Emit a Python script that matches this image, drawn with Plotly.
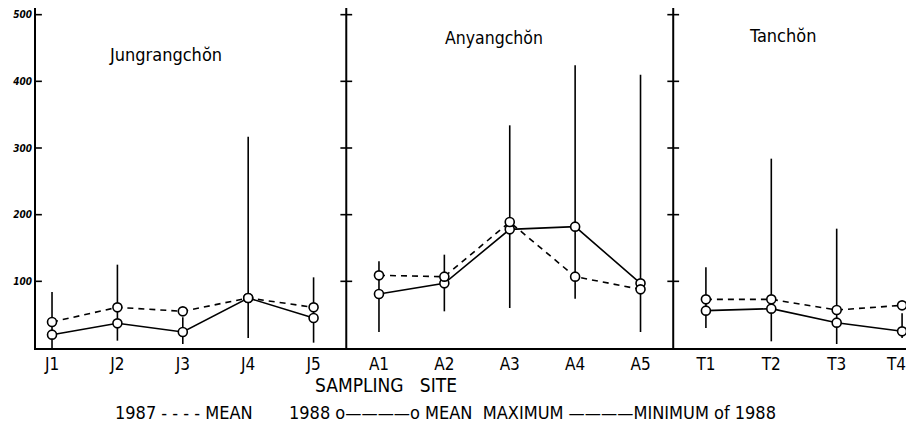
import plotly.graph_objects as go

# ---------------- data ----------------
groups = ["Jungrangchŏn", "Anyangchŏn", "Tanchŏn"]
sites_j = ["J1", "J2", "J3", "J4", "J5"]
sites_a = ["A1", "A2", "A3", "A4", "A5"]
sites_t = ["T1", "T2", "T3", "T4"]

mean87_j = [39, 61, 55, 75, 61]
mean87_a = [109, 107, 189, 107, 88]
mean87_t = [73, 73, 57, 64]

mean88_j = [20, 37, 24, 75, 45]
mean88_a = [81, 97, 178, 182, 97]
mean88_t = [56, 59, 38, 25]

max88_j = [84, 125, 46, 317, 106]
max88_a = [130, 140, 334, 424, 410]
max88_t = [121, 284, 179, 52]

min88_j = [0, 11, 6, 15, 8]
min88_a = [24, 55, 60, 74, 24]
min88_t = [30, 10, 6, 15]

y_ticks = [100, 200, 300, 400, 500]

# ---------------- figure ----------------
panels = [
    (sites_j, mean87_j, mean88_j, max88_j, min88_j),
    (sites_a, mean87_a, mean88_a, max88_a, min88_a),
    (sites_t, mean87_t, mean88_t, max88_t, min88_t),
]

YMAX = 510
FONT = "DejaVu Sans Condensed, Liberation Sans Narrow, sans-serif"

fig = go.Figure()
all_vals, all_text = [], []
dividers = []
start = 0
for sites, m87, m88, mx, mn in panels:
    xs = list(range(start, start + len(sites)))
    all_vals += xs
    all_text += sites
    # 1988 range bars (min to max) drawn as asymmetric error bars
    fig.add_trace(go.Scatter(
        x=xs, y=m88, mode="lines+markers",
        line=dict(color="black", width=1.6),
        marker=dict(symbol="circle", size=9, color="white", line=dict(width=1.6, color="black")),
        error_y=dict(type="data", symmetric=False,
                     array=[a - b for a, b in zip(mx, m88)],
                     arrayminus=[b - c for b, c in zip(m88, mn)],
                     width=0, thickness=1.6, color="black"),
        showlegend=False, hoverinfo="skip"))
    fig.add_trace(go.Scatter(
        x=xs, y=m87, mode="lines+markers",
        line=dict(color="black", width=1.6, dash="6px,5px"),
        marker=dict(symbol="circle", size=9, color="white", line=dict(width=1.6, color="black")),
        showlegend=False, hoverinfo="skip"))
    start += len(sites)
    dividers.append(start - 0.5)
dividers = dividers[:-1]

shapes = []
axis_positions = [-0.245] + dividers
for i, xp in enumerate(axis_positions):
    if i > 0:
        shapes.append(dict(type="line", xref="x", yref="y", x0=xp, x1=xp, y0=0, y1=YMAX,
                           line=dict(color="black", width=2)))
    for t in y_ticks:
        shapes.append(dict(type="line", xref="x", yref="y", x0=xp - 0.09, x1=xp + 0.09,
                           y0=t, y1=t, line=dict(color="black", width=1.6)))

def px_x(p):
    return (p - 36) / 870

def px_y(p):
    return (348 - p) / 340

annotations = []
title_pos = [(107, 55, 18), (443, 38, 17.5), (747, 35, 18)]
for name, (px, py, fs) in zip(groups, title_pos):
    annotations.append(dict(text=name, xref="paper", yref="paper", x=px_x(px), y=px_y(py),
                            xanchor="left", yanchor="middle", showarrow=False,
                            font=dict(family=FONT, size=fs, color="black")))
# last site label, nudged left so it stays inside the page (as in the original)
last_label = all_text[-1]
all_text = all_text[:-1] + [""]
annotations.append(dict(text=last_label, xref="x", yref="paper", x=all_vals[-1],
                        y=px_y(364), xanchor="center", yanchor="middle", xshift=-6,
                        showarrow=False, font=dict(family=FONT, size=17, color="black")))
annotations.append(dict(text="SAMPLING   SITE", xref="paper", yref="paper",
                        x=px_x(313), y=px_y(385), xanchor="left",
                        yanchor="middle", showarrow=False,
                        font=dict(family=FONT, size=19, color="black")))
annotations.append(dict(text="1987 - - - - MEAN", xref="paper", yref="paper",
                        x=px_x(113), y=px_y(412), xanchor="left",
                        yanchor="middle", showarrow=False,
                        font=dict(family=FONT, size=18, color="black")))
annotations.append(dict(text="1988 o————o MEAN  MAXIMUM ————MINIMUM of 1988",
                        xref="paper", yref="paper",
                        x=px_x(287), y=px_y(412), xanchor="left",
                        yanchor="middle", showarrow=False,
                        font=dict(family=FONT, size=18, color="black")))

fig.update_layout(
    width=908, height=431,
    margin=dict(l=36, r=2, t=8, b=83, autoexpand=False),
    paper_bgcolor="white", plot_bgcolor="white",
    shapes=shapes, annotations=annotations,
    xaxis=dict(range=[-0.245, 13.06], tickvals=all_vals, ticktext=all_text,
               showgrid=False, zeroline=False, showline=True, linecolor="black",
               linewidth=1.6, ticks="", fixedrange=True,
               automargin=False,
               tickfont=dict(family=FONT, size=17, color="black")),
    yaxis=dict(range=[0, YMAX], tickvals=y_ticks, showgrid=False, zeroline=False,
               showline=True, linecolor="black", linewidth=2, ticks="",
               ticklen=0, fixedrange=True, automargin=False,
               tickfont=dict(family=FONT, size=10, color="black", style="italic",
                             weight="bold")),
)

fig.write_html("out.html")
